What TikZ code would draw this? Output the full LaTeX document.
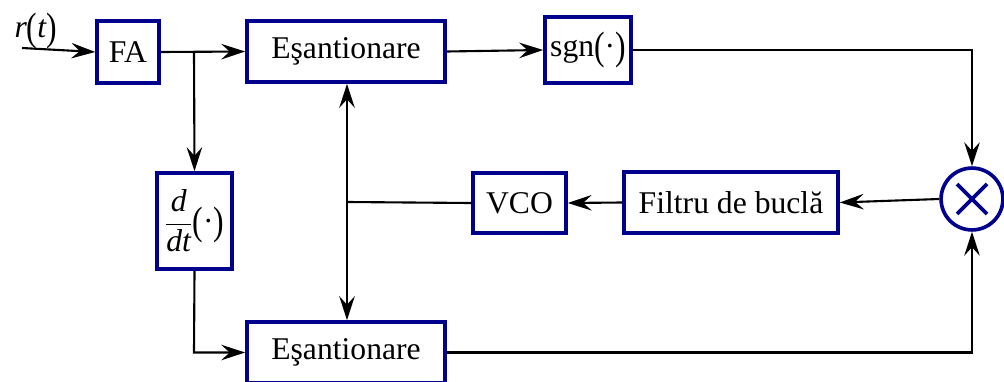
\documentclass[tikz,border=0pt]{standalone}
\usepackage{fontspec}
\usepackage{graphicx}
\setmainfont{Liberation Serif}
\usetikzlibrary{arrows.meta}
\definecolor{boxblue}{RGB}{0,0,140}
\newcommand{\lpar}{\raisebox{-0.08em}{\scalebox{1}[1.25]{(}}}
\newcommand{\rpar}{\raisebox{-0.08em}{\scalebox{1}[1.25]{)}}}
\tikzset{
  blk/.style={draw=boxblue, line width=2.6pt, inner sep=0pt, fill=white,
    font=\fontsize{22.5}{27}\selectfont},
  mult/.style={circle, draw=boxblue, line width=2.6pt, inner sep=0pt, minimum size=44pt, fill=white},
  xline/.style={draw=boxblue, line width=2.6pt},
  wire/.style={line width=1.5pt, black},
  arr/.style={wire, -{Stealth[length=17pt,width=11pt,inset=6pt]}}
}
\begin{document}
\begin{tikzpicture}[x=0.025cm, y=-0.025cm]
\useasboundingbox (0,0) rectangle (1004,381);
\clip (0,0) rectangle (1004,381);
\fill[white] (0,0) rectangle (1004,381);
% nodes
\node[font=\fontsize{22.5}{27}\selectfont] (rt) at (36,31) {\textit{r}\lpar\textit{t}\rpar};
\coordinate (in) at (22,48);
\node[blk, minimum width=44pt, minimum height=44pt] (FA) at (128,52) {FA};
\node[blk, minimum width=140.8pt, minimum height=43.4pt] (E1) at (346,51.5) {Eşantionare};
\node[blk, minimum width=61.2pt, minimum height=47pt] (SG) at (588,50) {sgn\lpar·\rpar};
\node[mult] (M) at (972,199) {};
\node[blk, minimum width=152pt, minimum height=43.4pt] (FB) at (731,202.5) {Filtru de buclă};
\node[blk, minimum width=66pt, minimum height=42.7pt] (VCO) at (519.5,203) {VCO};
\node[blk, minimum width=53.3pt, minimum height=68.3pt] (D) at (194.5,221) {$\displaystyle\frac{\textit{d}}{\textit{dt}}$\lpar·\rpar};
\node[blk, minimum width=140.8pt, minimum height=43.4pt] (E2) at (346,352.5) {Eşantionare};
\coordinate (B) at (194,52);
\coordinate (J) at (347,202);
\coordinate (TR) at (972,50);
\coordinate (BR) at (972,352.5);
\coordinate (BL) at (194,352.5);
% cross
\draw[xline] ([shift={(-15,-15)}]M.center) -- ([shift={(15,15)}]M.center);
\draw[xline] ([shift={(-15,15)}]M.center) -- ([shift={(15,-15)}]M.center);
% connectors
\draw[arr] (in) -- (FA.west);
\draw[arr] (FA.east) -- (E1.west);
\draw[arr] (B) -- (D.north);
\draw[arr] (E1.east) -- (SG.west);
\draw[arr] (SG.east) -- (TR) -- (M.north);
\draw[arr] (M.west) -- (FB.east);
\draw[arr] (FB.west) -- (VCO.east);
\draw[wire] (VCO.west) -- (J);
\draw[arr] (J) -- (J |- E1.south);
\draw[arr] (J) -- (J |- E2.north);
\draw[arr] (D.south) -- (BL) -- (E2.west);
\draw[arr] (E2.east) -- (BR) -- (M.south);
\end{tikzpicture}
\end{document}
